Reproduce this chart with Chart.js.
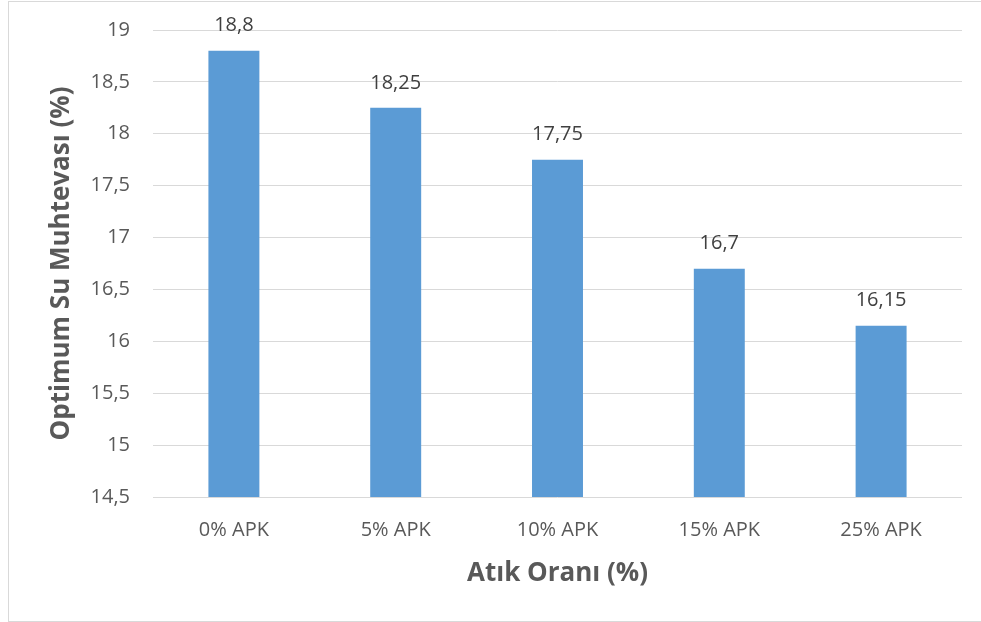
<!DOCTYPE html>
<html>
<head>
<meta charset="utf-8">
<script src="https://cdn.jsdelivr.net/npm/chart.js@4"></script>
<style>
    html, body { margin: 0; padding: 0; background: #fff; }
    #wrap { position: relative; width: 981px; height: 622px; }
    #frame {
        position: absolute; left: 8px; top: 1px; width: 980px; height: 619px;
        border-left: 1px solid #d9d9d9; border-top: 1px solid #d9d9d9; border-bottom: 1px solid #d9d9d9;
        pointer-events: none;
    }
    canvas { position: absolute; left: 0; top: 0; }
</style>
</head>
<body>
<div id="wrap">
    <canvas id="chart" width="981" height="622"></canvas>
    <div id="frame"></div>
</div>
<script>
// Veriler
const categories = ['0% APK', '5% APK', '10% APK', '15% APK', '25% APK'];
const waterContent = [18.8, 18.25, 17.75, 16.7, 16.15];
const yMin = 14.5;
const yMax = 19;
const yStep = 0.5;

const FONT = "'Open Sans', 'Noto Sans', sans-serif";

// virgüllü ondalık
function fmt(v) {
    return String(Math.round(v * 100) / 100).replace('.', ',');
}

// Çubuk üstü etiketler
const barLabels = {
    id: 'barLabels',
    afterDatasetsDraw(chart) {
        const ctx = chart.ctx;
        const meta = chart.getDatasetMeta(0);
        ctx.save();
        ctx.font = '20px ' + FONT;
        ctx.fillStyle = '#404040';
        ctx.textAlign = 'center';
        ctx.textBaseline = 'middle';
        meta.data.forEach((bar, i) => {
            ctx.fillText(fmt(waterContent[i]), bar.x, bar.y - 25);
        });
        ctx.restore();
    }
};

new Chart(document.getElementById('chart'), {
    type: 'bar',
    data: {
        labels: categories,
        datasets: [{
            data: waterContent,
            backgroundColor: '#5b9bd5',
            borderWidth: 0,
            categoryPercentage: 1,
            barPercentage: 0.315
        }]
    },
    options: {
        responsive: false,
        animation: false,
        layout: { padding: { top: 30, right: 19, left: 0, bottom: 0 } },
        plugins: {
            legend: { display: false },
            tooltip: { enabled: false }
        },
        scales: {
            x: {
                grid: { display: false },
                border: { display: false },
                ticks: { color: '#595959', font: { family: FONT, size: 20 }, padding: 13, maxRotation: 0 },
                title: {
                    display: true,
                    text: 'Atık Oranı (%)',
                    color: '#595959',
                    font: { family: FONT, size: 26, weight: 'bold' },
                    padding: { top: 0, bottom: 33 }
                },
                afterFit(scale) { scale.height = 125; }
            },
            y: {
                min: yMin,
                max: yMax,
                ticks: {
                    stepSize: yStep,
                    color: '#595959',
                    font: { family: FONT, size: 20 },
                    padding: 23,
                    callback: (v) => fmt(v)
                },
                grid: { color: '#d9d9d9', lineWidth: 1, drawTicks: false },
                border: { display: false },
                title: {
                    display: true,
                    text: 'Optimum Su Muhtevası (%)',
                    color: '#595959',
                    font: { family: FONT, size: 26, weight: 'bold' },
                    padding: { top: 46 }
                },
                afterFit(scale) {
                    scale.width = 153;
                    scale.paddingTop = 0;
                    scale.paddingBottom = 0;
                }
            }
        }
    },
    plugins: [barLabels]
});
</script>
</body>
</html>
